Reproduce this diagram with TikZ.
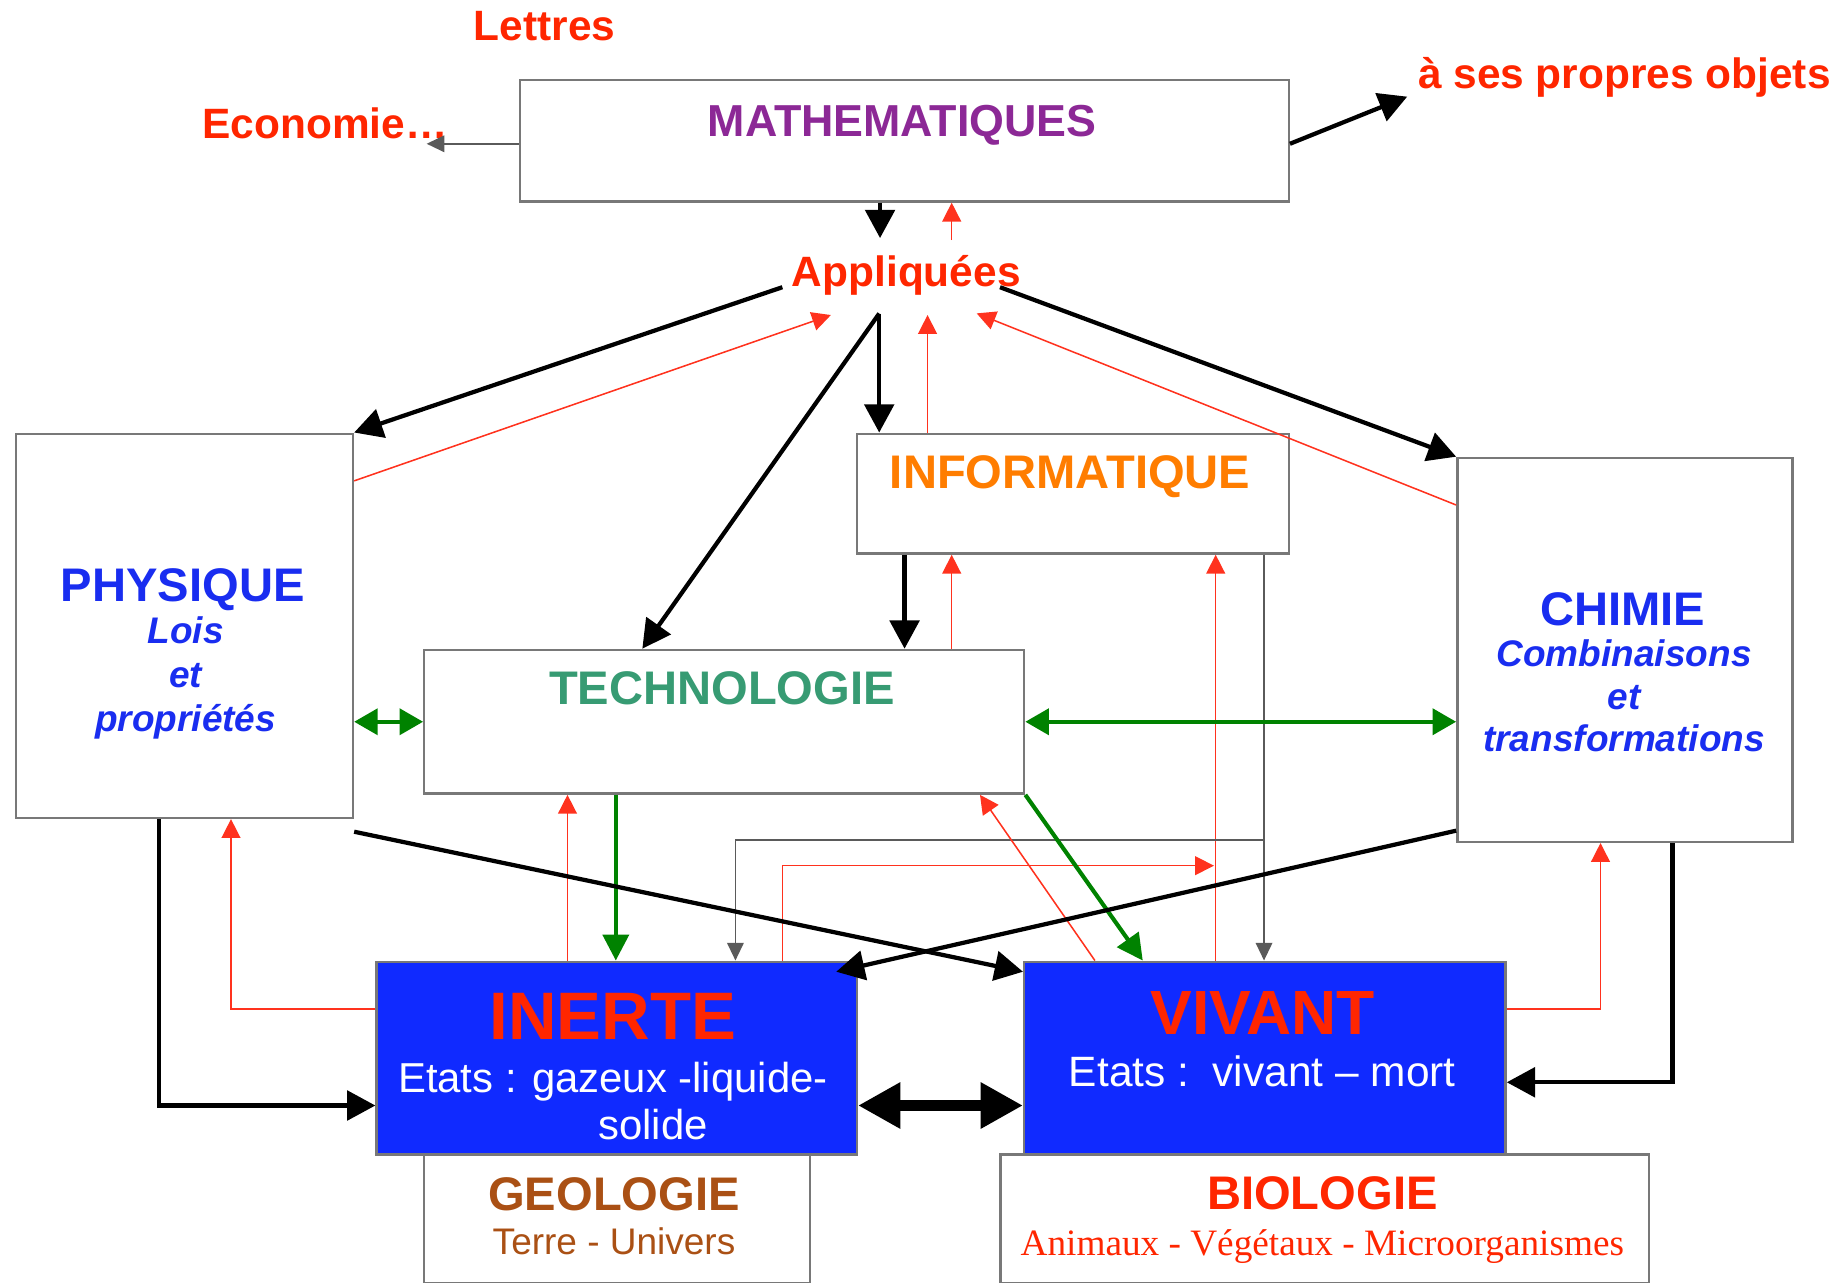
\documentclass[tikz,border=0pt]{standalone}
\usepackage{fontspec}
\setmainfont{Liberation Sans}
\newfontfamily\timesfont{Liberation Serif}
\usetikzlibrary{arrows.meta}

\definecolor{txtred}{RGB}{255,38,0}
\definecolor{linered}{RGB}{255,50,30}
\definecolor{mathpurple}{RGB}{140,40,150}
\definecolor{sciblue}{RGB}{25,45,240}
\definecolor{infoorange}{RGB}{255,125,0}
\definecolor{techteal}{RGB}{55,155,115}
\definecolor{geobrown}{RGB}{170,80,20}
\definecolor{fillblue}{RGB}{16,42,255}
\definecolor{boxgrey}{RGB}{120,120,120}
\definecolor{wiregrey}{RGB}{90,90,90}
\definecolor{arrowgreen}{RGB}{0,130,0}

\begin{document}
\begin{tikzpicture}[x=1pt, y=-1pt,
      subject/.style ={rectangle, draw=boxgrey, line width=2pt, fill=white, inner sep=0pt, anchor=north west},
      livebox/.style ={subject, fill=fillblue},
      heading/.style ={anchor=base, inner sep=0pt, font=\bfseries\fontsize{40}{48}\selectfont},
      detail/.style ={anchor=north, inner sep=0pt, align=center, sciblue, font=\bfseries\itshape\fontsize{31.4}{37.5}\selectfont},
      plaintext/.style ={anchor=base, inner sep=0pt, align=center},
      tag/.style ={anchor=base, inner sep=0pt, txtred, font=\bfseries\fontsize{36}{40}\selectfont},
      strong/.style ={line width=3.6pt, -{Triangle[length=24pt,width=25pt]}},
      backflow/.style ={linered, line width=1.3pt, -{Triangle[length=16pt,width=16pt]}},
      greenflow/.style ={arrowgreen, line width=3.5pt, -{Triangle[length=22pt,width=22pt]}},
      greyflow/.style ={wiregrey, line width=1.5pt, -{Triangle[length=15pt,width=14pt]}}]

   \useasboundingbox (0,0) rectangle (1568,1088.6);

   \node[subject, minimum width=652.5pt, minimum height=103pt] (M) at (440,67) {};
   \node[subject, minimum width=286pt, minimum height=326pt] (P) at (12.5,367) {};
   \node[subject, minimum width=366.5pt, minimum height=101.7pt] (I) at (726,367) {};
   \node[subject, minimum width=509pt, minimum height=122pt] (T) at (359,550.4) {};
   \node[subject, minimum width=284.5pt, minimum height=325.8pt] (C) at (1235.5,387.5) {};
   \node[subject, minimum width=327pt, minimum height=109.5pt] (G) at (359,978.5) {};
   \node[subject, minimum width=550pt, minimum height=109.5pt] (B) at (848,978.5) {};
   \node[livebox, minimum width=407.5pt, minimum height=163.5pt] (N) at (318.5,815) {};
   \node[livebox, minimum width=408.5pt, minimum height=163.5pt] (V) at (868,815) {};

   \node[tag] (L) at (462,34) {Lettres};
   \node[tag, anchor=base east] (E) at (380,117.4) {Economie…};
   \node[tag, anchor=base west] (O) at (1203,75) {à ses propres objets};
   \node[tag] (A) at (769,242.7) {Appliquées};

   \node[heading, mathpurple, font=\bfseries\fontsize{38}{44}\selectfont] (Mt) at (765.5,116) {MATHEMATIQUES};
   \node[heading, sciblue] (Pt) at (155,510.5) {PHYSIQUE};
   \node[detail] (Pd) at (157.5,519.5) {\strut Lois\\et\\propriétés};
   \node[heading, infoorange] (It) at (908,414.3) {INFORMATIQUE};
   \node[heading, techteal] (Tt) at (612.5,598) {TECHNOLOGIE};
   \node[heading, sciblue] (Ct) at (1377,530.3) {CHIMIE};
   \node[detail, font=\bfseries\itshape\fontsize{31.4}{36}\selectfont] (Cd) at (1378,540.5) {\strut Combinaisons\\et\\transformations};
   \node[heading, txtred, font=\bfseries\fontsize{57}{60}\selectfont] (Nt) at (520,882) {INERTE};
   \node[plaintext, anchor=north, white, font=\fontsize{35.5}{39.7}\selectfont] (Nd) at (520,899.2) {\strut Etats : gazeux -liquide-\\\hspace*{68pt}solide};
   \node[heading, txtred, font=\bfseries\fontsize{53}{60}\selectfont] (Vt) at (1071.5,877.6) {VIVANT};
   \node[plaintext, white, font=\fontsize{36}{40}\selectfont] (Vd) at (1071,922) {Etats :\ \ vivant – mort};
   \node[heading, geobrown] (Gt) at (521,1026.7) {GEOLOGIE};
   \node[plaintext, geobrown, font=\fontsize{31.4}{36}\selectfont] (Gd) at (521,1064.8) {Terre - Univers};
   \node[heading, txtred] (Bt) at (1122,1026) {BIOLOGIE};
   \node[plaintext, txtred, font=\timesfont\fontsize{31.6}{36}\selectfont] (Bd) at (1122,1065) {Animaux - Végétaux - Microorganismes};

   \draw[greyflow] ([yshift=-55pt]M.north west) -- ([xshift=-18pt,yshift=-4.6pt]E.base east);
   \draw[strong] ([yshift=-55pt]M.north east) -- ([xshift=-9pt,yshift=-7pt]O.base west);
   \draw[strong] ([xshift=306.7pt]M.south west) -- ([xshift=-22.3pt,yshift=40.7pt]A.base);
   \draw[backflow] ([xshift=38.5pt,yshift=39pt]A.base) -- ([xshift=367.5pt]M.south west);

   \draw[strong] ([xshift=-105.2pt,yshift=-1pt]A.base) -- (P.north east);
   \draw[backflow] ([yshift=-41pt]P.north east) -- ([xshift=-64pt,yshift=-24.6pt]A.base);
   \draw[strong] ([xshift=-23pt,yshift=-23.3pt]A.base) -- ([xshift=186pt]T.north west);
   \draw[strong] ([xshift=-23pt,yshift=-23.3pt]A.base) -- ([xshift=20pt]I.north west);
   \draw[backflow] ([xshift=61pt]I.north west) -- ([xshift=18pt,yshift=-24.6pt]A.base);
   \draw[backflow] ([yshift=-41pt]C.north west) -- ([xshift=59.7pt,yshift=-23.2pt]A.base);
   \draw[strong] ([xshift=79.5pt,yshift=-1pt]A.base) -- (C.north west);

   \draw[strong] ([xshift=41.5pt]I.south west) -- ([xshift=408.5pt]T.north west);
   \draw[backflow] ([xshift=448.5pt]T.north west) -- ([xshift=81.5pt]I.south west);
   \draw[backflow] ([xshift=163.5pt]V.north west) -- ([xshift=305.5pt]I.south west);
   \draw[greyflow] ([xshift=346.5pt]I.south west) -- ([xshift=204.5pt]V.north west);
   \draw[greyflow] ([xshift=204.5pt,yshift=102pt]V.north west) -| ([xshift=305.5pt]N.north west);
   \draw[backflow] ([xshift=345.5pt]N.north west) |- ([xshift=162pt,yshift=80.5pt]V.north west);

   \draw[greenflow, {Triangle[length=20pt,width=22pt]}-{Triangle[length=20pt,width=22pt]}] (T.west -| P.east) -- (T.west);
   \draw[greenflow, {Triangle[length=20pt,width=22pt]}-{Triangle[length=20pt,width=22pt]}] (T.east) -- (T.east -| C.west);

   \draw[backflow] ([xshift=163pt]N.north west) -- ([xshift=122.5pt]T.south west);
   \draw[greenflow] ([xshift=163.5pt]T.south west) -- ([xshift=204pt]N.north west);
   \draw[backflow] ([xshift=61pt]V.north west) -- ([xshift=-38.5pt]T.south east);
   \draw[greenflow] (T.south east) -- ([xshift=101.6pt]V.north west);

   \draw[strong] ([yshift=-10.7pt]P.south east) -- ([yshift=-9.5pt]V.north west);
   \draw[strong] ([yshift=10.5pt]C.south west) -- ([xshift=-18.5pt,yshift=-9.5pt]N.north east);
   \draw[strong] ([xshift=122.5pt]P.south west) |- ([yshift=-123pt]N.north west);
   \draw[backflow] ([yshift=-41pt]N.north west) -| ([xshift=183.5pt]P.south west);
   \draw[strong] ([xshift=183.5pt]C.south west) |- ([yshift=-103.3pt]V.north east);
   \draw[backflow] ([yshift=-41pt]V.north east) -| ([xshift=122.5pt]C.south west);
   \draw[line width=9pt, {Triangle[length=36pt,width=37pt]}-{Triangle[length=36pt,width=37pt]}] ([yshift=-123pt]N.north east) -- ([yshift=-123pt]V.north west);

 \end{tikzpicture}
\end{document}
